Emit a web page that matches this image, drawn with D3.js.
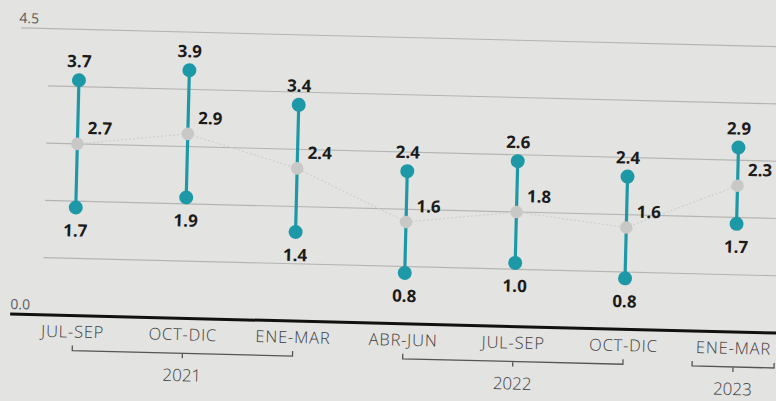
<!DOCTYPE html>
<html>
<head>
<meta charset="utf-8">
<script src="https://cdn.jsdelivr.net/npm/d3@7"></script>
<style>
  html, body { margin: 0; padding: 0; background: #e3e3e1; }
  svg { display: block; }
</style>
</head>
<body>
<svg id="chart" width="776" height="401"></svg>
<script>
const categories = ["JUL-SEP", "OCT-DIC", "ENE-MAR", "ABR-JUN", "JUL-SEP", "OCT-DIC", "ENE-MAR"];
const highValues = [3.7, 3.9, 3.4, 2.4, 2.6, 2.4, 2.9];
const midValues  = [2.7, 2.9, 2.4, 1.6, 1.8, 1.6, 2.3];
const lowValues  = [1.7, 1.9, 1.4, 0.8, 1.0, 0.8, 1.7];
const yTickValues = [0, 0.9, 1.8, 2.7, 3.6, 4.5];
const yTickLabels = ["0.0", "", "", "", "", "4.5"];
const yearLabels = ["2021", "2022", "2023"];
const yearFrom = [0, 3, 6];
const yearTo = [2, 5, 6];
const yearAt = [1, 4, 6];

(function () {
const W = 776, H = 401;
const baseY = 323.7, topY = 37.4;
const svg = d3.select("#chart");
svg.append("rect").attr("width", W).attr("height", H).attr("fill", "#e3e3e1");

const g = svg.append("g").attr("transform", `rotate(1.42, 400, ${baseY})`);

const x = d3.scalePoint().domain(d3.range(categories.length)).range([73, 734]);
const y = d3.scaleLinear().domain([0, 4.5]).range([baseY, topY]);

const teal = "#1c98a6";
const dark = "#1b1b1b";

// gridlines
g.append("g").selectAll("line")
  .data(yTickValues.filter(v => v > 0))
  .join("line")
  .attr("x1", d => d === 4.5 ? 14 : 42)
  .attr("x2", 810)
  .attr("y1", d => y(d)).attr("y2", d => y(d))
  .attr("stroke", "#b4b4b2").attr("stroke-width", 1.1);

// tick labels
g.append("g").selectAll("text")
  .data(yTickValues.map((v, i) => ({v, t: yTickLabels[i]})).filter(d => d.t))
  .join("text")
  .attr("x", d => d.v === 0 ? 10 : 12)
  .attr("y", d => y(d.v) - 5)
  .attr("font-family", "Open Sans, sans-serif")
  .attr("font-size", 14)
  .attr("fill", "#5a5a5a")
  .text(d => d.t);

// baseline
g.append("line")
  .attr("x1", 10).attr("x2", 820)
  .attr("y1", y(0)).attr("y2", y(0))
  .attr("stroke", "#111").attr("stroke-width", 3);

// faint connecting line between midpoints
g.append("path")
  .datum(midValues)
  .attr("d", d3.line().x((d, i) => x(i)).y(d => y(d)))
  .attr("fill", "none")
  .attr("stroke", "#cfcfcd")
  .attr("stroke-width", 1.2)
  .attr("stroke-dasharray", "2,2");

const idx = d3.range(categories.length);

// range bars
g.append("g").selectAll("line")
  .data(idx).join("line")
  .attr("x1", i => x(i)).attr("x2", i => x(i))
  .attr("y1", i => y(highValues[i])).attr("y2", i => y(lowValues[i]))
  .attr("stroke", teal).attr("stroke-width", 3.2);

// mid dots
g.append("g").selectAll("circle")
  .data(idx).join("circle")
  .attr("cx", i => x(i)).attr("cy", i => y(midValues[i]))
  .attr("r", 6.3).attr("fill", "#c8c8c6");

// high/low dots
g.append("g").selectAll("circle")
  .data(idx.flatMap(i => [{i, v: highValues[i]}, {i, v: lowValues[i]}]))
  .join("circle")
  .attr("cx", d => x(d.i)).attr("cy", d => y(d.v))
  .attr("r", 7).attr("fill", teal);

const valFont = (sel) => sel
  .attr("font-family", "Open Sans, sans-serif")
  .attr("font-weight", 700)
  .attr("font-size", 17)
  .attr("fill", dark);

g.append("g").selectAll("text")
  .data(idx).join("text")
  .attr("x", i => x(i)).attr("y", i => y(highValues[i]) - 13)
  .attr("text-anchor", "middle")
  .call(valFont)
  .text(i => highValues[i].toFixed(1));

g.append("g").selectAll("text")
  .data(idx).join("text")
  .attr("x", i => x(i)).attr("y", i => y(lowValues[i]) + 29)
  .attr("text-anchor", "middle")
  .call(valFont)
  .text(i => lowValues[i].toFixed(1));

g.append("g").selectAll("text")
  .data(idx).join("text")
  .attr("x", i => x(i) + 10).attr("y", i => y(midValues[i]) - 10)
  .attr("text-anchor", "start")
  .call(valFont)
  .text(i => midValues[i].toFixed(1));

// category labels
g.append("g").selectAll("text")
  .data(idx).join("text")
  .attr("x", i => x(i)).attr("y", baseY + 22)
  .attr("text-anchor", "middle")
  .attr("font-family", "Open Sans, sans-serif")
  .attr("font-size", 16.5)
  .attr("font-weight", 300)
  .attr("letter-spacing", 0.8)
  .attr("fill", "#3c3c3c")
  .text(i => categories[i]);

// year brackets
const by = baseY + 35;
yearLabels.forEach((lab, k) => {
  let x1 = x(yearFrom[k]), x2 = x(yearTo[k]);
  if (x1 === x2) { x1 -= 41; x2 += 41; }
  const xm = x(yearAt[k]);
  const bg = g.append("g");
  bg.append("path")
    .attr("d", `M${x1},${by - 5}V${by}H${x2}V${by - 5}M${xm},${by}V${by + 5}`)
    .attr("fill", "none").attr("stroke", "#555").attr("stroke-width", 1.3);
  bg.append("text")
    .attr("x", xm).attr("y", by + 28)
    .attr("text-anchor", "middle")
    .attr("font-family", "Open Sans, sans-serif")
    .attr("font-size", 17)
    .attr("font-weight", 300)
    .attr("fill", "#3c3c3c")
    .text(lab);
});
})();
</script>
</body>
</html>
